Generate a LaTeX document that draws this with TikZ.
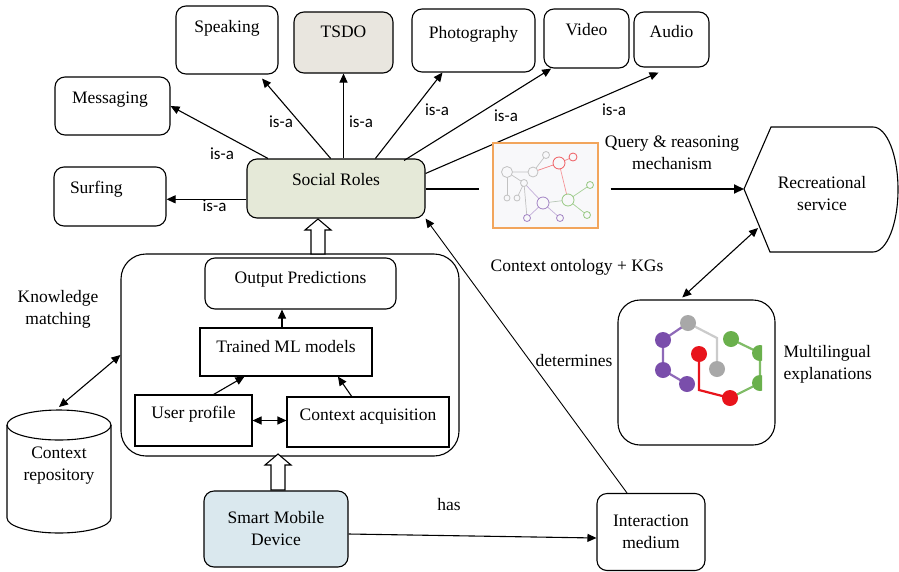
\documentclass[tikz,border=0pt]{standalone}
\usepackage{fontspec}
\setmainfont{Liberation Serif}
\newfontfamily\isafont{Carlito}
\usepackage{xcolor}
\definecolor{rolefill}{HTML}{E5E9D8}
\definecolor{tsdofill}{HTML}{E9E6DF}
\definecolor{devfill}{HTML}{DAE8EE}
\definecolor{kgorange}{HTML}{F2A55C}
\definecolor{kgfill}{HTML}{F8F8FA}
\definecolor{molpurple}{HTML}{7A4EAB}
\definecolor{molgray}{HTML}{A8A8A8}
\definecolor{molred}{HTML}{E8141C}
\definecolor{molgreen}{HTML}{6AB04C}
\usepackage{tikz}
\usetikzlibrary{positioning, arrows.meta, calc}
\tikzset{
    rbox/.style = {draw, line width=1.1pt, rounded corners=10pt, inner sep=0pt},
    sbox/.style = {draw, line width=1.1pt, inner sep=0pt},
    toptext/.style 2 args = {text height=#1, text depth=#2},
    leftbox/.style = {rbox, align=left, text width=#1},
    arrow/.style = {-{Triangle[length=9pt, width=8pt]}, line width=1.1pt},
    dblarrow/.style = {{Triangle[length=9pt, width=8pt]}-{Triangle[length=9pt, width=8pt]}, line width=1.1pt},
    thickarrow/.style = {-{Triangle[length=10pt, width=9pt]}, line width=2pt},
    hollow/.style = {draw, fill=white, line width=1.1pt, line join=miter},
    isa/.style = {font=\isafont\fontsize{17}{20}\selectfont},
    kgedge/.style = {line width=0.7pt},
    moledge/.style = {line width=2.2pt},
}
% upward block arrow: centre x, bottom y, tip y
\newcommand{\hollowup}[3]{%
  \draw[hollow] (#1-7,#2) -- (#1-7,#3+11) -- (#1-13,#3+11) -- (#1,#3)
    -- (#1+13,#3+11) -- (#1+7,#3+11) -- (#1+7,#2) -- cycle;}

\begin{document}
\begin{tikzpicture}[x=1pt, y=-1pt, font=\fontsize{17.5}{22}\selectfont]
    \fill[white] (0,0) rectangle (899,571);
    \useasboundingbox (0,0) rectangle (899,571);

    % roles
    \node[rbox, fill=rolefill, minimum width=178pt, toptext={26pt}{33pt}] (social) at (336,188.5) {Social Roles};
    \node[rbox, minimum width=102pt, toptext={26pt}{42pt}] (speak) at (227,40) {Speaking};
    \node[rbox, fill=tsdofill, minimum width=99pt, toptext={25pt}{36pt}] (tsdo) at (343.5,42.5) {TSDO};
    \node[rbox, minimum width=123pt, toptext={29pt}{34pt}] (photo) at (473.5,40.5) {Photography};
    \node[rbox, minimum width=85pt, toptext={26pt}{33pt}] (video) at (586.5,38.5) {Video};
    \node[rbox, minimum width=75pt, toptext={25pt}{30pt}] (audio) at (671.5,39.5) {Audio};
    \node[leftbox=81pt, inner xsep=17pt, toptext={26pt}{32pt}] (msg) at (112.5,106) {Messaging};
    \node[leftbox=80pt, inner xsep=16pt, toptext={26pt}{33pt}] (surf) at (110,196.5) {Surfing};

    \draw[arrow] ($(social.north west)!0.68!(social.south west)$) coordinate (s0) -- (s0 -| surf.east)
        node[isa, pos=0.4, below=-3pt] (isa0) {is-a};
    \draw[arrow] ($(social.north west)!0.12!(social.north east)$) -- (msg.east);
    \draw[arrow] ($(social.north west)!0.47!(social.north east)$) -- ($(speak.south west)!0.84!(speak.south east)+(0,4)$);
    \draw[arrow] (tsdo.south |- social.north) -- (tsdo.south);
    \draw[arrow] ($(social.north west)!0.72!(social.north east)$) -- ($(photo.south west)!0.25!(photo.south east)$);
    \draw[arrow] ($(social.north west)!0.88!(social.north east)+(0,2)$) -- ($(video.south west)!0.09!(video.south east)$);
    \draw[arrow] ($(social.north east)!0.25!(social.south east)$) -- ($(audio.south west)!0.33!(audio.south east)+(0,5)$);
    \node[isa] (isa1) at (222,154) {is-a};
    \node[isa] (isa2) at (281,122) {is-a};
    \node[isa] (isa3) at (361,122) {is-a};
    \node[isa] (isa4) at (437,110) {is-a};
    \node[isa] (isa5) at (506,116) {is-a};
    \node[isa] (isa6) at (614,110) {is-a};

    % knowledge graph
    \node[draw=kgorange, line width=1.3pt, fill=kgfill, minimum width=105pt, minimum height=85pt, inner sep=0pt] (kg) at (545.5,185.5) {};
    \begin{scope}[kgedge]
        \draw[molgray!70] (507,172) -- (533,172) -- (546,155);
        \draw[molgray!70] (507,172) -- (524,183) -- (517,198);
        \draw[molgray!70] (507,172) -- (507,198);
        \draw[molgray!70] (524,183) -- (527,218);
        \draw[molpurple!45] (524,183) -- (543,203) -- (560,218);
        \draw[molpurple!45] (543,203) -- (527,218);
        \draw[molpurple!35!molgreen!50] (543,203) -- (568,200);
        \draw[molred!55] (533,172) -- (559,163) -- (573,157);
        \draw[molred!45] (559,163) -- (568,200);
        \draw[molgreen!60] (568,200) -- (590,185);
        \draw[molgreen!60] (568,200) -- (587,215);
    \end{scope}
    \foreach \px/\py/\r/\c in {507/172/5.5/molgray, 533/172/5/molgray, 546/155/3.5/molgray,
        524/183/3.5/molgray, 507/198/3/molgray, 517/198/3/molgray,
        559/163/6/molred, 573/157/4/molred, 543/203/6/molpurple, 527/218/3.5/molpurple,
        560/218/3.5/molpurple, 568/200/6/molgreen, 590/185/3.5/molgreen, 587/215/3.5/molgreen}
        \draw[\c!70, fill=kgfill, line width=0.8pt] (\px,\py) circle[radius=\r];

    \draw[line width=2pt, shorten >=13pt] (social.east) -- (social.east -| kg.west);

    % recreational service
    \draw[line width=1.1pt] (744,189) -- (771,127) -- (873,127)
        arc[start angle=-90, end angle=90, x radius=25, y radius=62.5] -- (770,252) -- cycle;
    \coordinate (recw) at (744,189);
    \coordinate (recsw) at (758,228);
    \node[align=center] (rec) at (822,194) {Recreational\\service};
    \draw[thickarrow, shorten <=12pt] (kg.east |- recw) -- (recw);
    \node[align=center] (query) at (672,153) {Query \& reasoning\\mechanism};
    \node (onto) at (577,267) {Context ontology + KGs};

    % multilingual explanations
    \node[rbox, rounded corners=22pt, minimum width=157pt, minimum height=145pt] (mlx) at (696.5,372.5) {};
    \draw[dblarrow] (recsw) -- ($(mlx.north west)!0.41!(mlx.north east)+(0,-2)$);
    \begin{scope}
        \clip (620,305) rectangle (762,430);
        \draw[moledge, molpurple!85] (688,323) -- (663,340) -- (663,370) -- (687,384);
        \draw[moledge, molgray!60] (688,323) -- (717,338) -- (717,369);
        \draw[moledge, molred] (699,354) -- (699,390) -- (730,398);
        \draw[moledge, molgreen!85] (730,398) -- (760,383) -- (760,353) -- (731,339);
        \foreach \px/\py/\c in {663/340/molpurple, 663/370/molpurple, 687/384/molpurple,
            688/323/molgray, 717/369/molgray, 699/354/molred, 730/398/molred,
            731/339/molgreen, 760/353/molgreen, 760/383/molgreen}
            \fill[\c] (\px,\py) circle[radius=8];
    \end{scope}
    \node[anchor=west, align=left] (mltxt) at (780,364) {Multilingual\\explanations};

    % ML block
    \node[rbox, rounded corners=25pt, minimum width=338pt, minimum height=202pt] (mlbox) at (290,355) {};
    \node[rbox, minimum width=191pt, toptext={25pt}{26pt}] (outp) at (300.5,283.5) {Output Predictions};
    \node[sbox, minimum width=172pt, toptext={24pt}{24pt}] (trained) at (286,352) {Trained ML models};
    \node[sbox, minimum width=117pt, toptext={23pt}{28pt}] (user) at (193.5,420.5) {User profile};
    \node[sbox, minimum width=162pt, toptext={23pt}{27pt}] (acq) at (368,422) {Context acquisition};
    \draw[arrow] ($(trained.north)+(-4,0)$) coordinate (t0) -- (t0 |- outp.south);
    \draw[arrow] ($(user.north west)!0.67!(user.north east)$) -- ($(trained.south west)!0.26!(trained.south east)$);
    \draw[arrow] ($(acq.north west)!0.4!(acq.north east)$) -- ($(trained.south west)!0.8!(trained.south east)$);
    \draw[dblarrow] (user.east) -- (user.east -| acq.west);
    \hollowup{318}{254}{219}

    % repository
    \draw[line width=1.1pt] (7,425) -- (7,518) arc[start angle=180, end angle=0, x radius=52, y radius=15] -- (111,425);
    \draw[line width=1.1pt] (59,425) ellipse[x radius=52, y radius=15];
    \coordinate (repotop) at (59,407);
    \node[align=center] (repo) at (59,466) {Context\\repository};
    \node[align=center] (know) at (58,309) {Knowledge\\matching};
    \draw[dblarrow] (repotop) -- (mlbox.west);

    % device and medium
    \node[rbox, fill=devfill, minimum width=144pt, minimum height=76pt, align=center] (smd) at (276,529) {Smart Mobile\\Device};
    \node[rbox, minimum width=108pt, minimum height=77pt, align=center] (im) at (651,532) {Interaction\\medium};
    \hollowup{278}{490}{454}
    \draw[arrow] ($(smd.east)+(0,5)$) -- ($(im.west)+(0,6)$);
    \node (has) at (449,505) {has};
    \draw[arrow, line width=0.9pt] ($(im.north west)!0.28!(im.north east)$) -- (social.south east);
    \node (det) at (574,361) {determines};
\end{tikzpicture}
\end{document}
